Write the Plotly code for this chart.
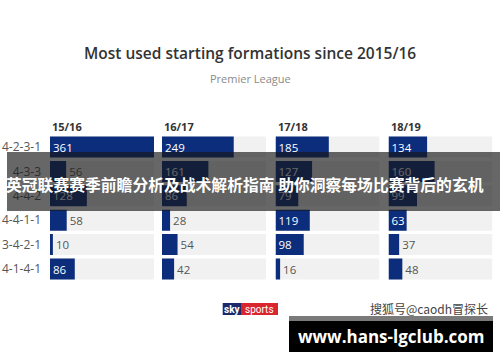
import plotly.graph_objects as go

# ---- data ----
formations = ["4-2-3-1", "4-3-3", "4-4-2", "4-4-1-1", "3-4-2-1", "4-1-4-1"]
seasons = ["15/16", "16/17", "17/18", "18/19"]
s1516 = [361, 56, 128, 58, 10, 86]
s1617 = [249, 161, 86, 28, 54, 42]
s1718 = [185, 127, 79, 119, 98, 16]
s1819 = [134, 160, 99, 63, 37, 48]
series = [s1516, s1617, s1718, s1819]

title = "Most used starting formations since 2015/16"
subtitle = "Premier League"
banner = "英冠联赛赛季前瞻分析及战术解析指南 助你洞察每场比赛背后的玄机"
watermark = "搜狐号@caodh冒探长"
site = "www.hans-lgclub.com"

# ---- styling ----
W, H = 500, 362
NAVY = "#0b2d7b"
TRACK = "#f1f1f1"
FONT = "Open Sans"
col_left = [50, 162, 275.5, 388.5]
col_w = 104
max_v = max(max(s) for s in series)


def px(x):
    return x / W


def py(y):
    return 1 - y / H


fig = go.Figure()
layout_axes = {}
for i, (season, vals) in enumerate(zip(seasons, series)):
    xa = "x" if i == 0 else f"x{i+1}"
    xkey = "xaxis" if i == 0 else f"xaxis{i+1}"
    fig.add_trace(go.Bar(
        y=formations, x=[max_v] * len(formations), orientation="h",
        xaxis=xa, yaxis="y", marker=dict(color=TRACK, line=dict(width=0)),
        width=0.86, hoverinfo="skip", showlegend=False,
    ))
    fig.add_trace(go.Bar(
        y=formations, x=vals, orientation="h",
        xaxis=xa, yaxis="y", marker=dict(color=NAVY, line=dict(width=0)),
        width=0.86, showlegend=False,
        text=[str(v) for v in vals],
        textposition=["inside" if v >= 60 else "outside" for v in vals],
        insidetextanchor="start",
        textangle=0,
        constraintext="none",
        cliponaxis=False,
        textfont=dict(family=FONT, size=11.5),
        insidetextfont=dict(family=FONT, size=11.5, color="#ffffff"),
        outsidetextfont=dict(family=FONT, size=11.5, color="#555555"),
    ))
    layout_axes[xkey] = dict(
        domain=[px(col_left[i]), px(col_left[i] + col_w)],
        range=[0, max_v], visible=False, fixedrange=True,
        anchor="y",
    )
    fig.add_annotation(
        x=px(col_left[i]), y=py(126), xref="paper", yref="paper",
        text=f"<b>{season}</b>", showarrow=False, xanchor="left", yanchor="middle",
        font=dict(family=FONT, size=11, color="#333333"),
    )

top, bottom = 134.8, 281.2
fig.update_layout(
    width=W, height=H,
    margin=dict(l=0, r=0, t=0, b=0),
    paper_bgcolor="white", plot_bgcolor="rgba(0,0,0,0)",
    barmode="overlay",
    showlegend=False,
    yaxis=dict(
        domain=[py(bottom), py(top)],
        categoryorder="array", categoryarray=formations,
        range=[len(formations) - 0.5, -0.5],
        showgrid=False, zeroline=False, showline=False, ticks="",
        tickfont=dict(family=FONT, size=12, color="#555555"),
        ticklabelstandoff=8, anchor="x", fixedrange=True,
    ),
    **layout_axes,
)

# title & subtitle
fig.add_annotation(x=0.5, y=py(53), xref="paper", yref="paper", text=title,
                   showarrow=False, xanchor="center", yanchor="middle",
                   font=dict(family=FONT, size=15.5, color="#333333", weight=600))
fig.add_annotation(x=0.5, y=py(79), xref="paper", yref="paper", text=subtitle,
                   showarrow=False, xanchor="center", yanchor="middle",
                   font=dict(family=FONT, size=11, color="#8a8a8a"))

# banner overlay
fig.add_shape(type="rect", xref="paper", yref="paper", layer="above",
              x0=px(7), x1=1, y0=py(211), y1=py(152),
              fillcolor="rgba(25,25,25,0.66)", line=dict(width=0))
fig.add_annotation(x=px(4), y=py(184), xref="paper", yref="paper", text=f"<b>{banner}</b>",
                   showarrow=False, xanchor="left", yanchor="middle",
                   font=dict(family="Noto Sans CJK SC", size=15.8, color="#ffffff"))

# sky sports logo
fig.add_shape(type="rect", xref="paper", yref="paper", layer="above",
              x0=px(222.7), x1=px(241), y0=py(315), y1=py(303),
              fillcolor="#1c2a6b", line=dict(width=0))
fig.add_shape(type="rect", xref="paper", yref="paper", layer="above",
              x0=px(241), x1=px(278), y0=py(315), y1=py(303),
              fillcolor="#d9262e", line=dict(width=0))
fig.add_annotation(x=px(231.8), y=py(309), xref="paper", yref="paper", text="<b>sky</b>",
                   showarrow=False, xanchor="center", yanchor="middle",
                   font=dict(family="Roboto", size=10, color="#ffffff"))
fig.add_annotation(x=px(259.5), y=py(309), xref="paper", yref="paper", text="sports",
                   showarrow=False, xanchor="center", yanchor="middle",
                   font=dict(family="Roboto", size=10, color="#ffffff"))

# watermark
fig.add_annotation(x=px(490), y=py(308), xref="paper", yref="paper", text=watermark,
                   showarrow=False, xanchor="right", yanchor="middle",
                   font=dict(family="Noto Sans CJK SC", size=12, color="#444444"))

# website box
fig.add_shape(type="rect", xref="paper", yref="paper", layer="above",
              x0=px(289), x1=px(493), y0=py(321), y1=py(316),
              fillcolor="#7a7a7a", line=dict(width=0))
fig.add_shape(type="rect", xref="paper", yref="paper", layer="above",
              x0=px(289), x1=px(493), y0=py(352), y1=py(321),
              fillcolor="#000000", line=dict(width=0))
fig.add_annotation(x=px(391), y=py(336.5), xref="paper", yref="paper", text=f"<b>{site}</b>",
                   showarrow=False, xanchor="center", yanchor="middle",
                   font=dict(family="Open Sans", size=17, color="#ffffff"))

fig.write_html("out.html", config={"displayModeBar": False},
               post_script="document.body.style.margin='0px';")
